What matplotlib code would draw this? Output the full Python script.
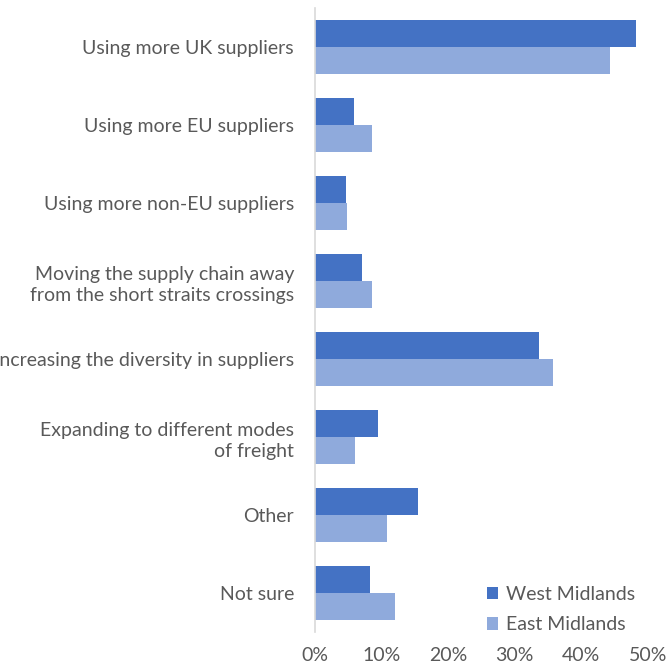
import matplotlib.pyplot as plt
import numpy as np

categories = [
    "Using more UK suppliers",
    "Using more EU suppliers",
    "Using more non-EU suppliers",
    "Moving the supply chain away\nfrom the short straits crossings",
    "Increasing the diversity in suppliers",
    "Expanding to different modes\nof freight",
    "Other",
    "Not sure",
]
west_midlands = [48.2, 5.8, 4.6, 7.0, 33.6, 9.4, 15.5, 8.2]
east_midlands = [44.3, 8.5, 4.8, 8.5, 35.7, 6.0, 10.9, 12.1]
xticks = [0, 10, 20, 30, 40, 50]

plt.rcParams['font.family'] = ['Lato', 'DejaVu Sans']
text_color = "#595959"

fig = plt.figure(figsize=(6.7, 6.66), dpi=100)
ax = fig.add_axes([0.470, 0.051, 0.497, 0.937])

y = np.arange(len(categories))
h = 0.346
ax.barh(y - h / 2, west_midlands, height=h, color="#4472C4", label="West Midlands")
ax.barh(y + h / 2, east_midlands, height=h, color="#8FAADC", label="East Midlands")

ax.set_ylim(len(categories) - 0.5, -0.5)
ax.set_xlim(0, 50)
ax.set_yticks(y)
ax.set_yticklabels(categories, fontsize=14, color=text_color, linespacing=1.3)
ax.set_xticks(xticks)
ax.set_xticklabels([f"{t}%" for t in xticks], fontsize=14, color=text_color)
ax.tick_params(length=0, axis="y", pad=15)
ax.tick_params(length=0, axis="x", pad=11)

for side in ["top", "right", "bottom"]:
    ax.spines[side].set_visible(False)
ax.spines["left"].set_color("#D9D9D9")
ax.spines["left"].set_linewidth(1.2)

ax.legend(loc="lower right", bbox_to_anchor=(1.015, -0.03), frameon=False, fontsize=14,
          handlelength=0.6, handleheight=0.6, handletextpad=0.4, labelspacing=0.7,
          labelcolor=text_color)

fig.savefig("out.png", dpi=100)
